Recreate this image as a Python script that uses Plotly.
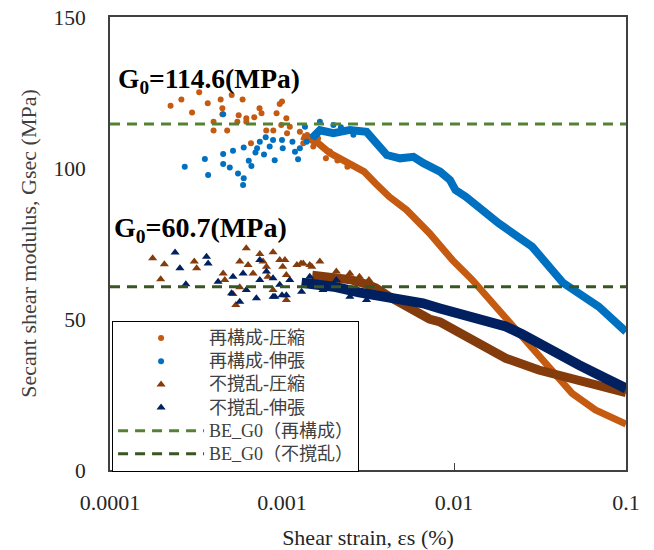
import plotly.graph_objects as go

# ---------------- data ----------------
# 再構成-圧縮 (scattered small-strain part)
rc_comp_x = [2.25e-4, 2.6e-4, 3.0e-4, 3.3e-4, 3.7e-4, 4.0e-4, 4.0e-4, 4.4e-4, 4.5e-4, 4.5e-4,
             4.8e-4, 5.1e-4, 5.5e-4, 5.6e-4, 5.9e-4, 6.2e-4, 6.2e-4, 6.6e-4, 6.9e-4, 7.4e-4,
             7.6e-4, 8.1e-4, 8.9e-4, 9.3e-4, 9.7e-4, 9.9e-4, 1.0e-3, 1.06e-3, 1.07e-3, 1.11e-3,
             1.27e-3, 1.33e-3, 1.4e-3, 1.52e-3, 1.62e-3, 1.8e-3, 1.9e-3, 2.1e-3, 2.4e-3]
rc_comp_y = [120.6, 122.7, 118.4, 125.1, 121.4, 115.3, 112.4, 122.7, 119.8, 117.8,
             112.4, 124.2, 115.3, 117.5, 122.7, 116.5, 115.3, 108.2, 116.8, 119.8,
             118.1, 112.4, 112.4, 118.1, 121.2, 114.2, 122.0, 116.5, 111.5, 113.7,
             112.0, 108.2, 110.9, 107.1, 109.8, 103.2, 105.5, 102.5, 100.4]
# 再構成-圧縮 (dense large-strain band)
rc_comp_tail_x = [1.3e-3, 1.6e-3, 1.9e-3, 2.4e-3, 3.0e-3, 3.5e-3, 4.2e-3, 5.3e-3, 7.2e-3,
                  9.8e-3, 1.28e-2, 1.82e-2, 2.49e-2, 3.56e-2, 4.86e-2, 6.64e-2, 0.1]
rc_comp_tail_y = [110.5, 108.5, 104.9, 101.6, 98.8, 94.9, 90.5, 86.1, 78.4,
                  69.5, 62.9, 53.0, 44.1, 34.2, 25.4, 19.9, 15.2]

# 再構成-伸張
rc_ext_x = [2.72e-4, 3.56e-4, 3.72e-4, 4.55e-4, 4.55e-4, 4.97e-4, 5.19e-4, 5.99e-4, 5.55e-4, 5.99e-4,
            5.94e-4, 4.55e-4, 6.41e-4, 6.64e-4, 7.01e-4, 7.16e-4, 7.43e-4, 7.86e-4, 8.04e-4, 8.48e-4,
            8.87e-4, 9.07e-4, 1.0e-3, 1.01e-3, 1.15e-3, 1.19e-3, 1.24e-3, 1.27e-3, 1.36e-3, 1.39e-3,
            1.52e-3, 1.66e-3, 1.82e-3, 1.99e-3, 2.2e-3, 2.6e-3]
rc_ext_y = [100.4, 103.0, 97.7, 104.6, 101.3, 100.2, 105.7, 106.8, 98.2, 96.6,
            94.4, 117.8, 102.4, 100.7, 105.1, 106.5, 108.7, 104.5, 110.2, 107.1,
            109.3, 102.6, 109.3, 106.5, 108.7, 105.4, 102.9, 106.5, 113.7, 108.7,
            110.4, 115.3, 112.0, 114.2, 113.5, 111.0]
rc_ext_tail_x = [1.5e-3, 1.66e-3, 1.99e-3, 2.48e-3, 3.1e-3, 3.54e-3, 4.07e-3, 4.86e-3, 5.81e-3,
                 6.64e-3, 8.3e-3, 9.48e-3, 1.02e-2, 1.17e-2, 1.82e-2, 2.85e-2, 4.3e-2, 6.94e-2, 0.1]
rc_ext_tail_y = [110.0, 112.5, 111.5, 112.6, 112.0, 108.7, 104.3, 103.2, 103.7,
                 101.6, 98.8, 96.0, 92.7, 90.5, 81.7, 73.9, 62.0, 54.1, 45.8]

# 不撹乱-圧縮
ud_comp_x = [1.77e-4, 2.07e-4, 1.97e-4, 3.09e-4, 3.19e-4, 6.2e-4, 7.43e-4, 8.87e-4, 4.55e-4, 4.65e-4,
             5.19e-4, 5.39e-4, 5.68e-4, 6.35e-4, 6.79e-4, 7.76e-4, 8.12e-4, 8.29e-4, 9.7e-4, 1.01e-3,
             1.06e-3, 1.22e-3, 1.33e-3, 1.49e-3, 1.06e-3, 8.87e-4, 5.68e-4, 1.04e-3, 1.29e-3, 1.45e-3,
             1.66e-3, 2.07e-3, 2.48e-3, 2.82e-3, 3.2e-3]
ud_comp_y = [70.1, 68.1, 63.2, 69.0, 66.8, 73.4, 71.5, 72.1, 65.1, 62.9,
             58.3, 54.6, 69.0, 67.9, 65.1, 69.0, 67.3, 64.0, 69.5, 67.3,
             64.6, 67.9, 68.4, 67.3, 56.3, 59.6, 60.5, 69.5, 68.4, 67.9,
             69.0, 65.7, 65.1, 64.0, 62.9]
ud_comp_tail_x = [1.5e-3, 2.0e-3, 2.5e-3, 3.1e-3, 3.5e-3, 4.2e-3, 5.3e-3, 7.2e-3, 8.3e-3,
                  1.17e-2, 1.6e-2, 2.0e-2, 3.11e-2, 4.86e-2, 7.59e-2, 0.1]
ud_comp_tail_y = [64.5, 63.8, 63.0, 61.5, 60.3, 57.4, 54.0, 50.0, 49.0,
                  44.5, 40.0, 37.0, 33.1, 30.0, 27.6, 25.6]

# 不撹乱-伸張
ud_ext_x = [2.39e-4, 2.55e-4, 2.76e-4, 3.64e-4, 3.72e-4, 4.25e-4, 5.09e-4, 5.68e-4, 5.19e-4, 5.94e-4,
            7.43e-4, 7.43e-4, 8.12e-4, 8.87e-4, 9.7e-4, 1.06e-3, 6.2e-4, 7.1e-4, 8.87e-4, 9.1e-4,
            1.0e-3, 1.11e-3, 1.30e-3, 1.45e-3, 1.73e-3, 2.07e-3, 2.48e-3, 3.10e-3]
ud_ext_y = [72.0, 66.8, 61.5, 70.6, 68.4, 62.3, 58.5, 55.7, 64.0, 65.1,
            69.5, 62.9, 65.7, 57.4, 61.3, 57.9, 59.6, 56.9, 63.5, 57.4,
            57.9, 62.9, 59.0, 64.0, 59.6, 62.9, 57.4, 56.3]
ud_ext_tail_x = [1.3e-3, 2.0e-3, 2.8e-3, 4.2e-3, 6.6e-3, 8.3e-3, 1.02e-2, 1.28e-2, 1.6e-2,
                 2.0e-2, 2.49e-2, 3.11e-2, 3.74e-2, 5.31e-2, 7.59e-2, 0.1]
ud_ext_tail_y = [62.0, 60.7, 58.8, 57.4, 55.2, 53.5, 52.0, 51.0, 49.0,
                 47.5, 45.0, 41.9, 39.2, 34.8, 30.4, 27.0]

# Bender-element G0
g0_x = [1e-4, 0.1]
g0_remolded = 114.6
g0_undisturbed = 60.7

x_tickvals = [1e-4, 1e-3, 1e-2, 1e-1]
x_ticktext = ["0.0001", "0.001", "0.01", "0.1"]
y_tickvals = [0, 50, 100, 150]

names = ["再構成-圧縮", "再構成-伸張", "不撹乱-圧縮", "不撹乱-伸張",
         "BE_G0（再構成）", "BE_G0（不撹乱）"]

# ---------------- styles ----------------
C_ORANGE = "#C55A11"
C_BLUE = "#0070C0"
C_BROWN = "#843C0C"
C_NAVY = "#002060"
C_G1 = "#548235"
C_G2 = "#375623"
SERIF = "Liberation Serif, Times New Roman, serif"
LEGFONT = "Liberation Serif, Noto Sans CJK JP, serif"


def leg(name):
    return '<span style="font-size:18px">%s</span>' % name


fig = go.Figure()

series = [
    (rc_comp_x, rc_comp_y, rc_comp_tail_x, rc_comp_tail_y, C_ORANGE, "circle", 6, 7, names[0]),
    (rc_ext_x, rc_ext_y, rc_ext_tail_x, rc_ext_tail_y, C_BLUE, "circle", 6, 8, names[1]),
    (ud_comp_x, ud_comp_y, ud_comp_tail_x, ud_comp_tail_y, C_BROWN, "triangle-up", 8, 9, names[2]),
    (ud_ext_x, ud_ext_y, ud_ext_tail_x, ud_ext_tail_y, C_NAVY, "triangle-up", 8, 10, names[3]),
]
for sx, sy, tx, ty, col, sym, msize, lw, nm in series:
    fig.add_trace(go.Scatter(
        x=tx, y=ty, mode="lines", line=dict(color=col, width=lw),
        showlegend=False, hoverinfo="skip", legendgroup=nm))
    fig.add_trace(go.Scatter(
        x=sx, y=sy, mode="markers", name=leg(nm), legendgroup=nm,
        marker=dict(color=col, size=msize, symbol=sym, line=dict(width=0))))

fig.add_trace(go.Scatter(
    x=g0_x, y=[g0_remolded, g0_remolded], mode="lines", name=leg(names[4]),
    line=dict(color=C_G1, width=3, dash="10px,7px")))
fig.add_trace(go.Scatter(
    x=g0_x, y=[g0_undisturbed, g0_undisturbed], mode="lines", name=leg(names[5]),
    line=dict(color=C_G2, width=3, dash="10px,7px")))

fig.add_annotation(
    text="<b>G<sub>0</sub>=%.1f(MPa)</b>" % g0_remolded,
    xref="paper", yref="paper", x=0.012, y=0.86, xanchor="left", yanchor="middle",
    showarrow=False, font=dict(family=SERIF, size=27.5, color="#000000"))
fig.add_annotation(
    text="<b>G<sub>0</sub>=%.1f(MPa)</b>" % g0_undisturbed,
    xref="paper", yref="paper", x=0.004, y=0.532, xanchor="left", yanchor="middle",
    showarrow=False, font=dict(family=SERIF, size=28, color="#000000"))

# the page adds an 8 px body margin, so the figure is 8 px smaller and shifted
fig.update_layout(
    width=646, height=542,
    margin=dict(l=102, r=28, t=9, b=80, autoexpand=False),
    paper_bgcolor="white", plot_bgcolor="white",
    font=dict(family=SERIF, size=22, color="#262626"),
    legend=dict(
        x=0.004, y=0.33, xanchor="left", yanchor="top",
        bgcolor="white", bordercolor="#000000", borderwidth=1,
        font=dict(family=LEGFONT, size=15.5, color="#404040"),
        itemwidth=86, tracegroupgap=0,
    ),
    xaxis=dict(
        type="log", range=[-4, -1], automargin=False,
        tickvals=x_tickvals, ticktext=x_ticktext,
        ticks="inside", ticklen=7, tickcolor="#404040", tickwidth=1,
        showgrid=False, zeroline=False,
        showline=True, linecolor="#404040", linewidth=2, mirror=True,
        tickfont=dict(family=SERIF, size=22, color="#262626"),
        ticklabelstandoff=12, ticklabeloverflow="allow",
        title=dict(text="Shear strain, εs (%)", font=dict(family=SERIF, size=22, color="#262626"),
                   standoff=16),
    ),
    yaxis=dict(
        range=[0, 150], tickvals=y_tickvals, automargin=False,
        ticks="outside", ticklen=18, tickcolor="rgba(0,0,0,0)",
        showgrid=False, zeroline=False,
        showline=True, linecolor="#404040", linewidth=2, mirror=True,
        tickfont=dict(family=SERIF, size=21.5, color="#262626"),
        ticklabeloverflow="allow",
        title=dict(text="Secant shear modulus, Gsec (MPa)",
                   font=dict(family=SERIF, size=22, color="#404040"), standoff=11),
    ),
)

fig.write_html("out.html")
